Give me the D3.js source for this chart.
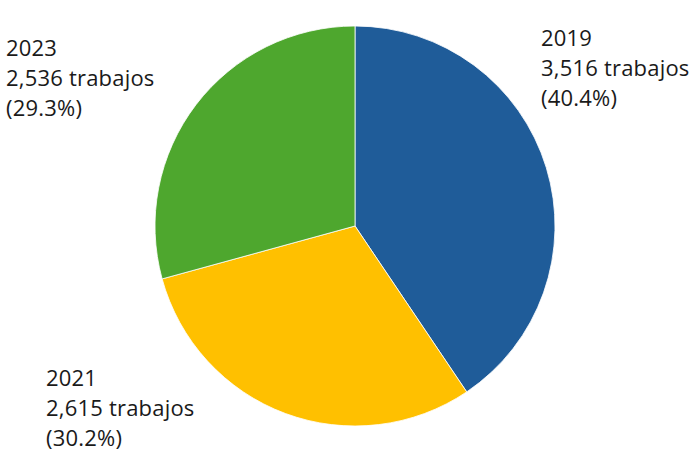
<!DOCTYPE html>
<html><head><meta charset="utf-8">
<script src="https://cdn.jsdelivr.net/npm/d3@7"></script>
<style>body{margin:0;background:#fff}svg{display:block}</style>
</head><body>
<script>
const years = ["2019", "2021", "2023"];
const jobs = [3516, 2615, 2536];
const jobLabels = ["3,516 trabajos", "2,615 trabajos", "2,536 trabajos"];
const pctLabels = ["(40.4%)", "(30.2%)", "(29.3%)"];
const colors = ["#1f5c99", "#ffc000", "#4ea72e"];

const W = 695, H = 461;
const svg = d3.select("body").append("svg").attr("width", W).attr("height", H);
const cx = 355, cy = 226, r = 200;
const pie = d3.pie().sort(null).value(d => d)(jobs);
const arc = d3.arc().innerRadius(0).outerRadius(r);
const g = svg.append("g").attr("transform", `translate(${cx},${cy})`);
g.selectAll("path").data(pie).join("path")
  .attr("d", arc).attr("fill", (d, i) => colors[i])
  .attr("stroke", "#fff").attr("stroke-width", 0.8);

const labelPos = [[541, 46], [46, 386], [6, 56]];
const lines = years.map((y, i) => [y, jobLabels[i], pctLabels[i]]);
lines.forEach((ls, i) => {
  const t = svg.append("text").attr("x", labelPos[i][0]).attr("y", labelPos[i][1])
    .attr("font-family", "Open Sans, sans-serif").attr("font-size", 22)
    .attr("letter-spacing", 0.2).attr("fill", "#1a1a1a");
  ls.forEach((l, j) => t.append("tspan").attr("x", labelPos[i][0]).attr("dy", j ? 30 : 0).text(l));
});
</script>
</body></html>
